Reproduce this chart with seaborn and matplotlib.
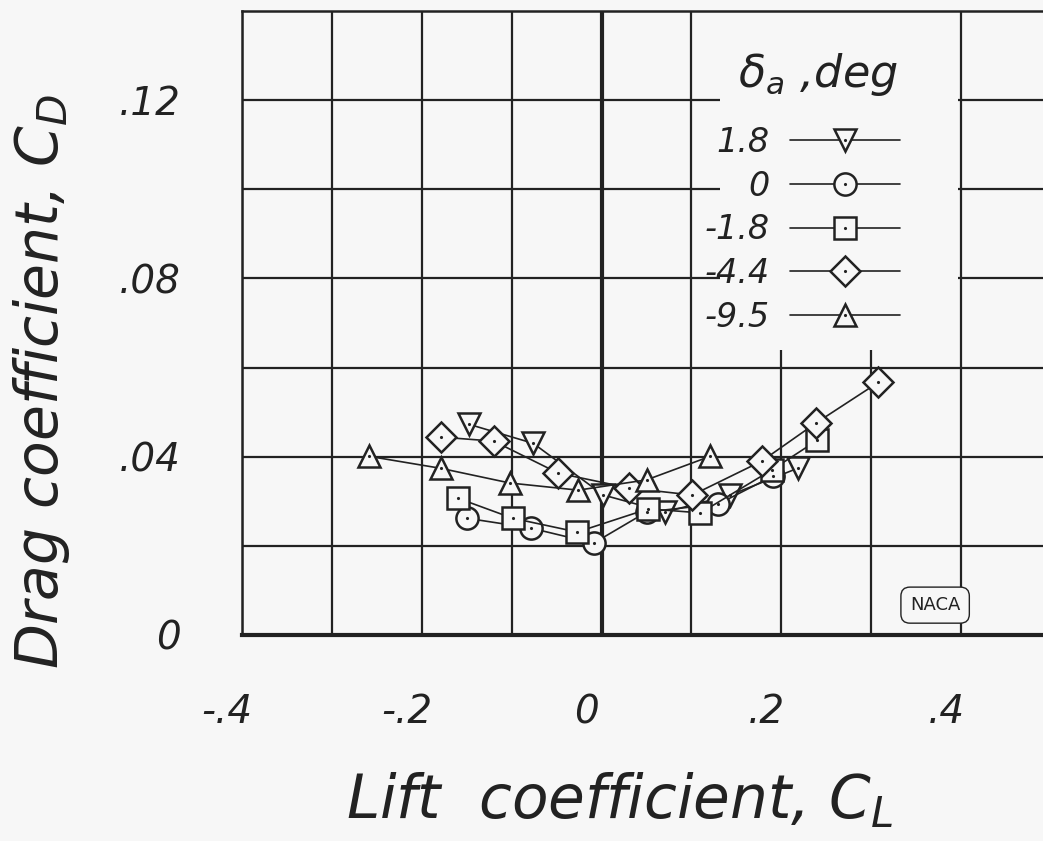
import numpy as np
import pandas as pd
import matplotlib
matplotlib.use("Agg")
import matplotlib.pyplot as plt
import matplotlib.transforms as mtransforms
import seaborn as sns
from matplotlib.legend_handler import HandlerTuple
from matplotlib.patches import Rectangle

# ---- data ----
cl_p18 = [-0.148, -0.076, 0.002, 0.071, 0.143, 0.218]
cd_p18 = [0.0473, 0.0430, 0.0314, 0.0276, 0.0314, 0.0374]

cl_0 = [-0.150, -0.079, -0.009, 0.050, 0.130, 0.191]
cd_0 = [0.0262, 0.0240, 0.0206, 0.0276, 0.0294, 0.0357]

cl_m18 = [-0.160, -0.099, -0.027, 0.052, 0.110, 0.189, 0.240]
cd_m18 = [0.0307, 0.0262, 0.0231, 0.0283, 0.0274, 0.0370, 0.0437]

cl_m44 = [-0.179, -0.120, -0.048, 0.030, 0.101, 0.178, 0.238, 0.308]
cd_m44 = [0.0444, 0.0435, 0.0363, 0.0330, 0.0314, 0.0390, 0.0475, 0.0567]

cl_m95 = [-0.259, -0.179, -0.102, -0.026, 0.050, 0.121]
cd_m95 = [0.0401, 0.0374, 0.0341, 0.0325, 0.0348, 0.0401]

series_labels = ["1.8", "0", "-1.8", "-4.4", "-9.5"]
series_x = [cl_p18, cl_0, cl_m18, cl_m44, cl_m95]
series_y = [cd_p18, cd_0, cd_m18, cd_m44, cd_m95]
series_markers = ["v", "o", "s", "D", "^"]

xtick_vals = [-0.4, -0.2, 0.0, 0.2, 0.4]
xtick_labels = ["-.4", "-.2", "0", ".2", ".4"]
ytick_vals = [0.0, 0.04, 0.08, 0.12]
ytick_labels = ["0", ".04", ".08", ".12"]

legend_title = "$\\delta_a$ ,deg"
x_title = "Lift  coefficient, $C_L$"
y_title = "Drag coefficient, $C_D$"

# ---- style ----
sns.set_theme(style="white")
plt.rcParams["font.family"] = ["DejaVu Sans"]
plt.rcParams["mathtext.fontset"] = "dejavusans"
ink = "#222222"
bg = "#f7f7f7"

W, H = 1043, 841
fig = plt.figure(figsize=(W / 100, H / 100), dpi=100, facecolor=bg)
ax_l, ax_r, ax_t, ax_b = 242, 1043, 11, 635
ax = fig.add_axes([ax_l / W, (H - ax_b) / H, (ax_r - ax_l) / W, (ax_b - ax_t) / H])
ax.set_facecolor(bg)
aw, ah = ax_r - ax_l, ax_b - ax_t


def axpx(px, py):
    """figure pixel -> axes fraction"""
    return (px - ax_l) / aw, (ax_b - py) / ah


ax.set_xlim(-0.399, 0.491)
ax.set_ylim(0, 0.14)

# grid
ax.set_xticks(xtick_vals)
ax.set_xticklabels(xtick_labels)
ax.set_xticks([-0.3, -0.1, 0.1, 0.3], minor=True)
ax.set_yticks(ytick_vals)
ax.set_yticklabels(ytick_labels)
ax.set_yticks([0.02, 0.06, 0.10], minor=True)
ax.grid(True, which="both", color=ink, lw=1.6)
ax.set_axisbelow(True)
ax.tick_params(which="both", length=0)
ax.tick_params(axis="x", pad=42, labelsize=28, labelcolor=ink)
ax.tick_params(axis="y", pad=44, labelsize=28, labelcolor=ink)
shift = mtransforms.ScaledTranslation(-15 / 100, 0, fig.dpi_scale_trans)
for lab in ax.get_xticklabels():
    lab.set_fontstyle("italic")
    lab.set_transform(lab.get_transform() + shift)
for lab in ax.get_yticklabels():
    lab.set_fontstyle("italic")

for s in ["left", "top"]:
    ax.spines[s].set_color(ink)
    ax.spines[s].set_linewidth(1.8)
ax.spines["bottom"].set_color(ink)
ax.spines["bottom"].set_linewidth(3)
ax.spines["right"].set_visible(False)
ax.axvline(0, color=ink, lw=3, zorder=1.5)

# blank legend panel (hides grid lines as in the reference)
x0, y0 = axpx(720, 350)
x1, y1 = axpx(958, 11)
ax.add_patch(Rectangle((x0, y0), x1 - x0, y1 - y0, transform=ax.transAxes,
                       facecolor=bg, edgecolor="none", zorder=1.8))

handles = []
for lab, xs, ys, m in zip(series_labels, series_x, series_y, series_markers):
    ms = 15 if m == "D" else 16
    sns.lineplot(x=xs, y=ys, sort=False, estimator=None, ax=ax, color=ink, lw=1.2,
                 marker=m, markersize=ms, markerfacecolor=bg, markeredgecolor=ink,
                 markeredgewidth=1.8, zorder=3)
    line = ax.lines[-1]
    dots = ax.plot(xs, ys, ls="none", marker=".", ms=2.5, color=ink, zorder=3.1)[0]
    handles.append((line, dots))

lx, ly = axpx(900, 126)
leg = ax.legend(handles, series_labels, handler_map={tuple: HandlerTuple(ndivide=1)},
                loc="upper right", bbox_to_anchor=(lx, ly),
                borderaxespad=0, markerfirst=False, frameon=False, fontsize=24,
                handlelength=3.3, handletextpad=0.6, labelspacing=0.32, borderpad=0)
leg.set_zorder(5)
for t in leg.get_texts():
    t.set_fontstyle("italic")
    t.set_color(ink)

tx, ty = axpx(818, 75)
ax.text(tx, ty, legend_title, transform=ax.transAxes, fontsize=32, fontstyle="italic",
        color=ink, ha="center", va="center", zorder=5)

ax.set_xlabel(x_title, fontsize=43, fontstyle="italic", color=ink)
ax.set_ylabel(y_title, fontsize=42, fontstyle="italic", color=ink)
ax.xaxis.set_label_coords(*axpx(620, 770))
ax.yaxis.set_label_coords(*axpx(72, 382))

# NACA emblem text
ax.text(0.371, 0.0067, "NACA", fontsize=13, color=ink, ha="center", va="center", zorder=6,
        bbox=dict(boxstyle="round,pad=0.5", fc=bg, ec=ink, lw=1))

fig.savefig("out.png", dpi=100, facecolor=bg)
